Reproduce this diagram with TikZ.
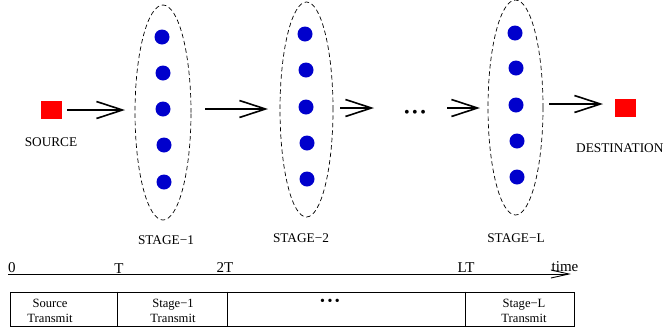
\documentclass[tikz,border=0pt]{standalone}
\usepackage{fontspec}
\setmainfont{Liberation Serif}
\usetikzlibrary{arrows.meta,shapes.geometric}
\tikzset{
  dot/.style={circle,fill=blue!80!black,draw=none,minimum size=15pt,inner sep=0pt},
  term/.style={rectangle,fill=red,draw=none,minimum width=21pt,minimum height=18pt,inner sep=0pt},
  stagebox/.style={ellipse,draw,dashed,dash pattern=on 4.5pt off 3pt,line width=0.7pt,inner sep=0pt},
  bigarrow/.style={line width=1.8pt,-{Straight Barb[length=26pt,width=17pt,line width=1.6pt]}},
  lbl/.style={inner sep=0pt,font=\fontsize{13.3}{15}\selectfont},
  tlbl/.style={inner sep=0pt,anchor=base,font=\fontsize{15}{17}\selectfont},
  cell/.style={inner sep=0pt,align=center,font=\fontsize{12.6}{15}\selectfont},
}
\begin{document}
\begin{tikzpicture}[x=1pt,y=-1pt]
\useasboundingbox (0,0) rectangle (669,330);
% terminals
\node[term] (src) at (51.5,110) {};
\node[term] (dst) at (625,108) {};
\node[lbl] (srcl) at (51,142) {SOURCE};
\node[lbl,anchor=west] (dstl) at (576,148) {DESTINATION};
% stages
\node[stagebox,minimum width=56pt,minimum height=215pt] (e1) at (163,112.5) {};
\node[stagebox,minimum width=53pt,minimum height=215pt] (e2) at (306.5,109.5) {};
\node[stagebox,minimum width=55pt,minimum height=215pt] (eL) at (515.5,107.5) {};
\node[dot] (a1) at (162,37) {};
\node[dot] (a2) at (163,73) {};
\node[dot] (a3) at (163,109) {};
\node[dot] (a4) at (164,145) {};
\node[dot] (a5) at (164,182) {};
\node[dot] (b1) at (305,34) {};
\node[dot] (b2) at (306,70) {};
\node[dot] (b3) at (306,107) {};
\node[dot] (b4) at (307,143) {};
\node[dot] (b5) at (307,179) {};
\node[dot] (c1) at (515,33) {};
\node[dot] (c2) at (516,68) {};
\node[dot] (c3) at (516,105) {};
\node[dot] (c4) at (517,141) {};
\node[dot] (c5) at (517,177) {};
\node[lbl] (s1) at (166,240) {STAGE−1};
\node[lbl] (s2) at (301,238) {STAGE−2};
\node[lbl] (sL) at (516,238) {STAGE−L};
\node[inner sep=0pt,font=\fontsize{16}{18}\selectfont] (mid) at (415,114) {•\hspace{2.5pt}•\hspace{2.5pt}•};
% arrow end points
\coordinate (p1s) at (67,110);  \coordinate (p1e) at (125,110);
\coordinate (p2s) at (205,109); \coordinate (p2e) at (268,109);
\coordinate (p3s) at (340,108); \coordinate (p3e) at (374,108);
\coordinate (p4s) at (447,108); \coordinate (p4e) at (480,108);
\coordinate (p5s) at (549,104); \coordinate (p5e) at (603,104);
\draw[bigarrow] (p1s) -- (p1e);
\draw[bigarrow] (p2s) -- (p2e);
\draw[bigarrow] (p3s) -- (p3e);
\draw[bigarrow] (p4s) -- (p4e);
\draw[bigarrow] (p5s) -- (p5e);
% time axis
\coordinate (t0) at (8,274);
\coordinate (t1) at (571,274);
\draw[line width=0.9pt,-{Straight Barb[length=18pt,width=8pt,line width=0.9pt]}] (t0) -- (t1);
\node[tlbl] (l0) at (12,272) {0};
\node[tlbl] (lT) at (119,273) {T};
\node[tlbl] (l2T) at (225,272) {2T};
\node[tlbl] (lLT) at (466,272) {LT};
\node[tlbl] (ltime) at (565,271) {time};
% schedule box
\node[draw,line width=1pt,minimum width=564pt,minimum height=34pt,inner sep=0pt] (box) at (292,309) {};
\draw[line width=0.8pt] (box.north -| 117,0) -- (box.south -| 117,0);
\draw[line width=0.8pt] (box.north -| 227,0) -- (box.south -| 227,0);
\draw[line width=0.8pt] (box.north -| 465,0) -- (box.south -| 465,0);
\node[cell] (c1t) at (50,310.5) {Source\\Transmit};
\node[cell] (c2t) at (173,310.5) {Stage−1\\Transmit};
\node[inner sep=0pt,font=\fontsize{14}{16}\selectfont] (c3t) at (330,302.5) {•\hspace{2.5pt}•\hspace{2.5pt}•};
\node[cell] (c4t) at (524,310.5) {Stage−L\\Transmit};
\end{tikzpicture}
\end{document}
